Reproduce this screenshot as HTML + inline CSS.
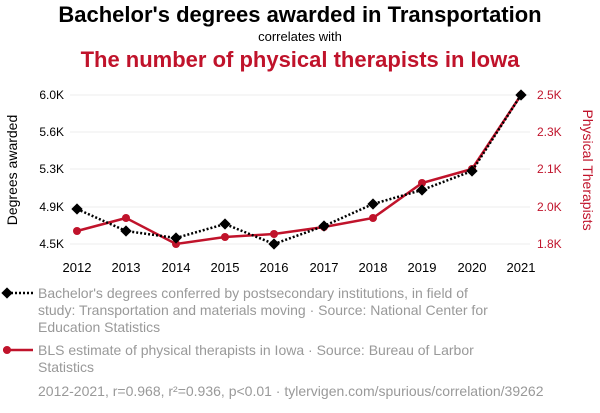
<!DOCTYPE html>
<html><head><meta charset="utf-8"><style>
body{margin:0;background:#fff;width:600px;height:408px;overflow:hidden;font-family:"Liberation Sans",sans-serif}
</style></head><body>
<svg width="600" height="408" xmlns="http://www.w3.org/2000/svg" font-family="Liberation Sans, sans-serif">
<rect width="600" height="408" fill="#fff"/>
<text x="300" y="22" text-anchor="middle" font-size="22" font-weight="bold" fill="#000">Bachelor's degrees awarded in Transportation</text>
<text x="300" y="41" text-anchor="middle" font-size="13" fill="#000">correlates with</text>
<text x="300" y="67" text-anchor="middle" font-size="22" font-weight="bold" fill="#c0132b">The number of physical therapists in Iowa</text>
<g stroke="#eee" stroke-width="1">
<line x1="70" x2="530" y1="95" y2="95"/><line x1="70" x2="530" y1="132" y2="132"/><line x1="70" x2="530" y1="169" y2="169"/><line x1="70" x2="530" y1="207" y2="207"/><line x1="70" x2="530" y1="244" y2="244"/>
</g>
<g font-size="12" fill="#000" text-anchor="end">
<text x="64" y="99">6.0K</text><text x="64" y="136">5.6K</text><text x="64" y="173">5.3K</text><text x="64" y="211">4.9K</text><text x="64" y="248">4.5K</text>
</g>
<g font-size="12" fill="#c0132b">
<text x="537" y="99">2.5K</text><text x="537" y="136">2.3K</text><text x="537" y="173">2.1K</text><text x="537" y="211">2.0K</text><text x="537" y="248">1.8K</text>
</g>
<text transform="translate(17,170) rotate(-90)" text-anchor="middle" font-size="14" fill="#000">Degrees awarded</text>
<text transform="translate(583,170) rotate(90)" text-anchor="middle" font-size="14" fill="#c0132b">Physical Therapists</text>
<g font-size="13" fill="#000" text-anchor="middle">
<text x="77" y="272">2012</text><text x="126" y="272">2013</text><text x="176" y="272">2014</text><text x="225" y="272">2015</text><text x="274" y="272">2016</text><text x="324" y="272">2017</text><text x="373" y="272">2018</text><text x="422" y="272">2019</text><text x="472" y="272">2020</text><text x="521" y="272">2021</text>
</g>
<polyline fill="none" stroke="#c0132b" stroke-width="2.5" points="77,231 126,218 176,244 225,237 274,234 324,227 373,218 422,183 472,169 521,95"/>
<g fill="#c0132b"><circle cx="77" cy="231" r="4"/><circle cx="126" cy="218" r="4"/><circle cx="176" cy="244" r="4"/><circle cx="225" cy="237" r="4"/><circle cx="274" cy="234" r="4"/><circle cx="324" cy="227" r="4"/><circle cx="373" cy="218" r="4"/><circle cx="422" cy="183" r="4"/><circle cx="472" cy="169" r="4"/><circle cx="521" cy="95" r="4"/></g>
<polyline fill="none" stroke="#000" stroke-width="2.5" stroke-dasharray="2,2" points="77,209 126,231 176,238 225,224 274,244 324,226 373,204 422,190 472,171 521,95"/>
<g fill="#000">
<rect x="-4" y="-4" width="8" height="8" transform="translate(77,209) rotate(45)"/><rect x="-4" y="-4" width="8" height="8" transform="translate(126,231) rotate(45)"/><rect x="-4" y="-4" width="8" height="8" transform="translate(176,238) rotate(45)"/><rect x="-4" y="-4" width="8" height="8" transform="translate(225,224) rotate(45)"/><rect x="-4" y="-4" width="8" height="8" transform="translate(274,244) rotate(45)"/><rect x="-4" y="-4" width="8" height="8" transform="translate(324,226) rotate(45)"/><rect x="-4" y="-4" width="8" height="8" transform="translate(373,204) rotate(45)"/><rect x="-4" y="-4" width="8" height="8" transform="translate(422,190) rotate(45)"/><rect x="-4" y="-4" width="8" height="8" transform="translate(472,171) rotate(45)"/><rect x="-4" y="-4" width="8" height="8" transform="translate(521,95) rotate(45)"/>
</g>
<line x1="3" x2="33" y1="293" y2="293" stroke="#000" stroke-width="2.5" stroke-dasharray="2,2"/>
<rect x="-4" y="-4" width="8" height="8" fill="#000" transform="translate(7,293) rotate(45)"/>
<g font-size="14" fill="#999">
<text x="38" y="298">Bachelor's degrees conferred by postsecondary institutions, in field of</text>
<text x="38" y="315">study: Transportation and materials moving · Source: National Center for</text>
<text x="38" y="332">Education Statistics</text>
<text x="38" y="355">BLS estimate of physical therapists in Iowa · Source: Bureau of Larbor</text>
<text x="38" y="372">Statistics</text>
<text x="38" y="396">2012-2021, r=0.968, r²=0.936, p&lt;0.01 · tylervigen.com/spurious/correlation/39262</text>
</g>
<line x1="3" x2="33" y1="350" y2="350" stroke="#c0132b" stroke-width="2.5"/>
<circle cx="7" cy="350" r="4" fill="#c0132b"/>
</svg>
</body></html>
